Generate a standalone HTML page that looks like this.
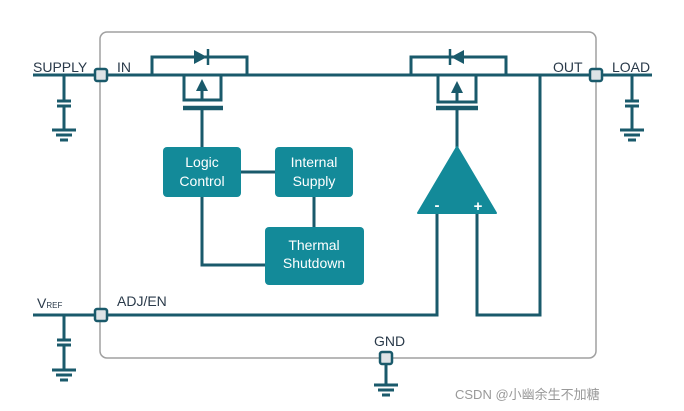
<!DOCTYPE html>
<html><head><meta charset="utf-8"><style>
html,body{margin:0;padding:0;background:#fff;}
svg{display:block;}
text{font-family:"Liberation Sans",sans-serif;}
</style></head><body>
<svg width="684" height="411" viewBox="0 0 684 411" xmlns="http://www.w3.org/2000/svg">
<rect x="100" y="32" width="496" height="326" rx="7" fill="none" stroke="#a0a0a0" stroke-width="1.5"/>
<g stroke="#1a5a6b" stroke-width="3" fill="none">
<path d="M33 75 H596 M596 75 H652"/>
<path d="M152 75 V57 H247 V75"/>
<path d="M184 75 V100 H221 V75"/>
<path d="M202 100 V84"/>
<path d="M183 108 H223" stroke-width="4.5"/>
<path d="M202 108 V147"/>
<path d="M411 75 V57 H506 V75"/>
<path d="M438 75 V102 H476 V75"/>
<path d="M457 102 V86"/>
<path d="M436 108 H478" stroke-width="4.5"/>
<path d="M457 108 V148"/>
<path d="M540 75 V315 H477 V213"/>
<path d="M437 213 V315 H33"/>
<path d="M241 172 H275 M314 197 V227 M202 197 V265 H265"/>
<path d="M64 75 V101 M57 101 H71 M57 106 H71 M64 106 V130 M52 130 H76 M56 135 H72 M60 140 H68"/>
<path d="M632 75 V101 M625 101 H639 M625 106 H639 M632 106 V130 M620 130 H644 M624 135 H640 M628 140 H636"/>
<path d="M64 315 V340 M57 340 H71 M57 345 H71 M64 345 V370 M52 370 H76 M56 375 H72 M60 380 H68"/>
<path d="M386 358 V385 M374 385 H398 M378 390 H394 M382 395 H390"/>
</g>
<polygon points="194,50 194,64 207,57" fill="#1a5a6b"/>
<path d="M208 49 V65" stroke="#1a5a6b" stroke-width="2.5"/>
<polygon points="464,50 464,64 451,57" fill="#1a5a6b"/>
<path d="M450 49 V65" stroke="#1a5a6b" stroke-width="2.5"/>
<polygon points="202,79 196,91 208,91" fill="#1a5a6b"/>
<polygon points="457,81 451,93 463,93" fill="#1a5a6b"/>
<g fill="#dde3e6" stroke="#1a5a6b" stroke-width="2.5">
<rect x="95" y="69" width="12" height="12" rx="2"/>
<rect x="590" y="69" width="12" height="12" rx="2"/>
<rect x="95" y="309" width="12" height="12" rx="2"/>
<rect x="380" y="352" width="12" height="12" rx="2"/>
</g>
<g fill="#138a99">
<rect x="163" y="147" width="78" height="50" rx="4"/>
<rect x="275" y="147" width="78" height="50" rx="4"/>
<rect x="265" y="227" width="99" height="58" rx="4"/>
<polygon points="457,147 496,213 418,213" stroke="#138a99" stroke-width="2" stroke-linejoin="round"/>
</g>
<g fill="#fff" font-size="14" text-anchor="middle">
<text x="202" y="167">Logic</text><text x="202" y="186">Control</text>
<text x="314" y="167">Internal</text><text x="314" y="186">Supply</text>
<text x="314" y="250">Thermal</text><text x="314" y="268">Shutdown</text>
<text x="437" y="210" font-weight="bold" font-size="15">-</text>
<text x="478" y="211" font-weight="bold" font-size="15">+</text>
</g>
<g fill="#2a3a4a" font-size="14">
<text x="33" y="72">SUPPLY</text>
<text x="117" y="72">IN</text>
<text x="553" y="72">OUT</text>
<text x="612" y="72">LOAD</text>
<text x="37" y="308">V<tspan font-size="8">REF</tspan></text>
<text x="117" y="306">ADJ/EN</text>
<text x="374" y="346">GND</text>
</g>
<text x="455" y="399" font-size="13" fill="#999" font-family="'Liberation Sans','Noto Sans CJK SC',sans-serif">CSDN @小幽余生不加糖</text>
</svg>
</body></html>
